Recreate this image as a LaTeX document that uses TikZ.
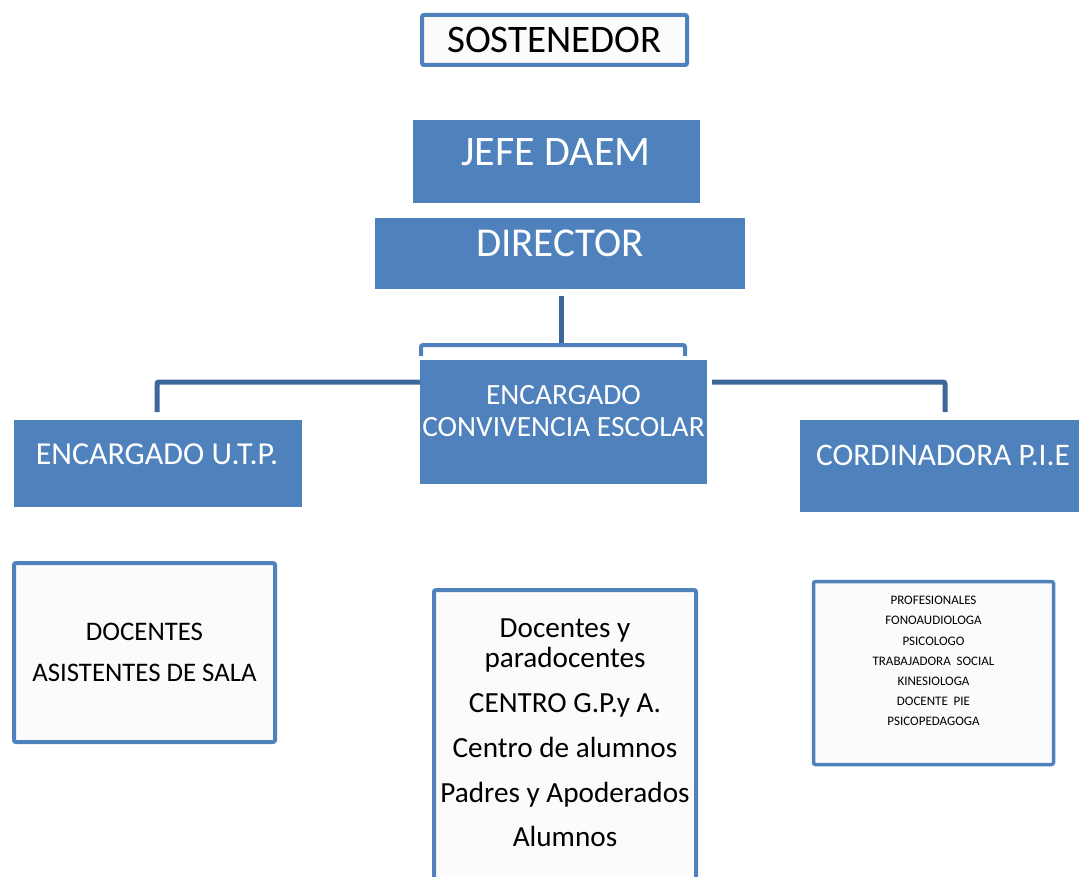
\documentclass[tikz,border=0pt]{standalone}
\usepackage{fontspec}
\setmainfont{Carlito}
\definecolor{boxblue}{HTML}{4F81BD}
\definecolor{linkblue}{HTML}{3D6699}
\definecolor{paper}{HTML}{FBFBFB}
\newcommand{\fs}[1]{\fontsize{#1}{#1}\selectfont}
\begin{document}
\begin{tikzpicture}[x=1pt,y=-1pt,
  solid box/.style={draw=none,fill=boxblue,inner sep=0pt,minimum width=#1},
  frame box/.style={draw=boxblue,line width=4pt,fill=paper,rounded corners=2pt,inner sep=0pt},
  wtext/.style={text=white,inner sep=0pt,align=center},
  btext/.style={text=black,inner sep=0pt,align=center},
  link/.style={draw=linkblue,line width=5pt,rounded corners=2pt},
  bracket/.style={draw=boxblue,line width=4pt,rounded corners=2pt}]
\useasboundingbox (0,0) rectangle (1079,877);
% top
\node[frame box,minimum width=265pt,minimum height=50pt] (sost) at (554.5,40) {};
\node[btext,font=\fs{39}] (sostT) at (554.5,40) {SOSTENEDOR};
\node[solid box=287pt,minimum height=83pt] (jefe) at (556.5,161.5) {};
\node[wtext,font=\fs{42}] (jefeT) at (556,152) {JEFE DAEM};
\node[solid box=370pt,minimum height=71pt] (dir) at (560,253.5) {};
\node[wtext,font=\fs{41}] (dirT) at (560,243) {DIRECTOR};
% second level
\node[solid box=287pt,minimum height=124pt] (conv) at (563.5,422) {};
\node[wtext,font=\fs{29.4}] (convT) at (563.5,411) {ENCARGADO\\[2.6pt]CONVIVENCIA ESCOLAR};
\node[solid box=288pt,minimum height=87pt] (utp) at (158,463.5) {};
\node[wtext,font=\fs{32}] (utpT) at (157,454) {ENCARGADO U.T.P.};
\node[solid box=279pt,minimum height=92pt] (pie) at (939.5,466) {};
\node[wtext,font=\fs{31.4}] (pieT) at (943,455) {CORDINADORA P.I.E};
% bottom
\node[frame box,minimum width=261pt,minimum height=179pt] (doc) at (144.5,652.5) {};
\node[btext,font=\fs{26.8}] (docT) at (144.5,652.5) {DOCENTES\\[14.2pt]ASISTENTES DE SALA};
\node[frame box,minimum width=262pt,minimum height=320pt,anchor=north] (mid) at (565,588) {};
\node[btext,anchor=north,font=\fs{29.2}] (midT) at (565,619) {Docentes y\\[0.8pt]paradocentes\\[15.8pt]CENTRO G.P.y A.\\[15.8pt]Centro de alumnos\\[15.8pt]Padres y Apoderados\\[14.8pt]Alumnos};
\node[frame box,line width=3.5pt,minimum width=240pt,minimum height=183pt] (prof) at (933.5,673) {};
\node[btext,anchor=north,font=\fs{13}] (profT) at (933.5,596) {PROFESIONALES\\[7.2pt]FONOAUDIOLOGA\\[7.2pt]PSICOLOGO\\[7.2pt]TRABAJADORA\ \ SOCIAL\\[7.2pt]KINESIOLOGA\\[7.2pt]DOCENTE\ \ PIE\\[7.2pt]PSICOPEDAGOGA};
% connectors
\coordinate (dirDrop) at (561,296);
\coordinate (bracketMid) at (561,345);
\coordinate (brL) at (421,356);
\coordinate (brR) at (685,356);
\coordinate (utpTop) at (157,412);
\coordinate (pieTop) at (945,412);
\draw[draw=linkblue,line width=5pt] (dirDrop) -- (bracketMid);
\draw[bracket] (brL) -- (421,345) -- (685,345) -- (brR);
\draw[link] (conv.west |- 0,382) -- (utpTop |- 0,382) -- (utpTop);
\draw[link] ([xshift=5pt]conv.east |- 0,382) -- (pieTop |- 0,382) -- (pieTop);
\end{tikzpicture}
\end{document}
